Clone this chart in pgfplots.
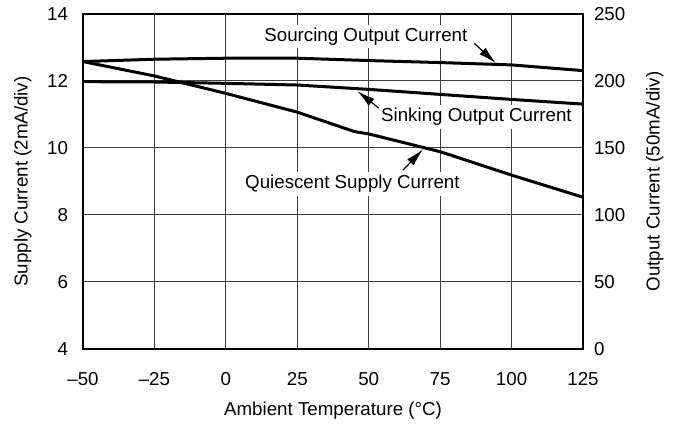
\documentclass[border=0pt]{standalone}
\usepackage{fontspec}
\setmainfont{Liberation Sans}
\usepackage{pgfplots}
\pgfplotsset{compat=1.18}
\usetikzlibrary{arrows.meta}
\tikzset{
  curve/.style={black, line width=1.5bp, no markers},
  pointer/.style={line width=0.6bp, -{Latex[length=9bp,width=4.5bp]}},
  callout/.style={fill=white, inner sep=1.5bp},
}
\begin{document}
\begin{tikzpicture}[font=\fontsize{9.4}{11.2}\selectfont]
\pgfplotsset{
  every axis/.append style={
    scale only axis, width=250bp, height=167.5bp,
    xmin=-50, xmax=125,
    major tick length=0pt,
    /pgf/number format/assume math mode=true,
    axis line style={line width=1.1bp},
    clip mode=individual,
  },
}
\begin{axis}[
  ymin=4, ymax=14, ytick={4,6,...,14},
  xtick={-50,-25,0,25,50,75,100,125},
  xticklabels={–50,–25,0,25,50,75,100,125},
  grid=major,
  grid style={line width=0.5bp, black!75},
  xlabel={Ambient Temperature (°C)},
  ylabel={Supply Current (2mA/div)},
  xlabel style={yshift=0bp},
  ylabel style={yshift=1bp},
  yticklabel style={xshift=-4bp},
  xticklabel style={yshift=-6.5bp, text height=1.6ex, text depth=0.2ex},
]
% quiescent supply current (left axis)
\addplot[curve] coordinates {(-50,12.58) (-25,12.15) (0,11.63) (25,11.07) (45,10.49) (50,10.42) (75,9.89) (100,9.19) (125,8.53)};

\node[callout] at (axis cs:49,13.33) {Sourcing Output Current};
\draw[pointer] (axis cs:87,13.12) -- (axis cs:94.5,12.53);
\node[callout] at (axis cs:87.7,10.93) {Sinking Output Current};
\draw[pointer] (axis cs:53.5,11.19) -- (axis cs:46,11.7);
\node[callout] at (axis cs:44.3,8.93) {Quiescent Supply Current};
\draw[pointer] (axis cs:62,9.34) -- (axis cs:69,9.96);
% page frame as in the reference
\path ([shift={(-41.5bp,-35bp)}]rel axis cs:0,0) rectangle ([shift={(45bp,7bp)}]rel axis cs:1,1);
\end{axis}
\begin{axis}[
  axis x line=none,
  axis y line*=right,
  ymin=0, ymax=250, ytick={0,50,...,250},
  ylabel={Output Current (50mA/div)},
  yticklabel style={xshift=2bp},
  ylabel style={yshift=-3.5bp},
]
% sourcing output current (right axis)
\addplot[curve] coordinates {(-50,214.5) (-25,216.25) (0,217) (25,217) (50,215.25) (75,213.75) (100,212) (125,207.75)};
% sinking output current (right axis)
\addplot[curve] coordinates {(-50,199.5) (-25,199.25) (0,198.25) (25,197) (50,193.75) (75,190) (100,186.25) (125,182.75)};
\end{axis}
\end{tikzpicture}
\end{document}
